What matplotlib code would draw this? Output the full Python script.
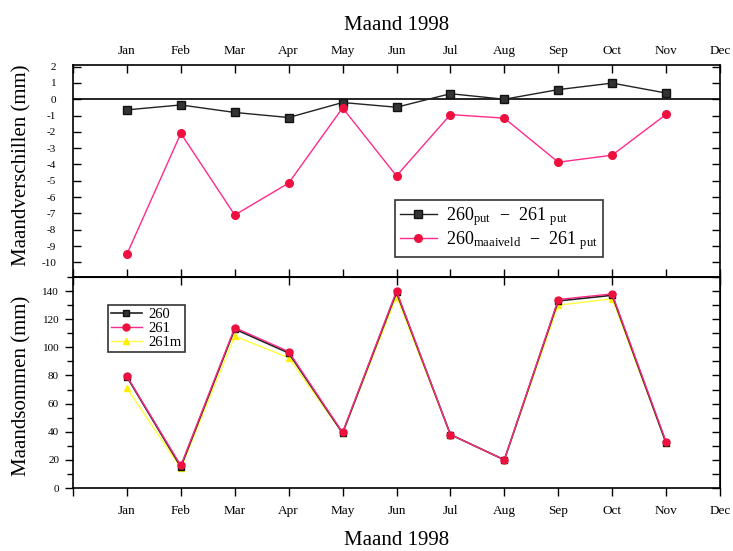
import matplotlib
matplotlib.use("Agg")
import matplotlib.pyplot as plt
from matplotlib.ticker import MultipleLocator, FixedLocator
import numpy as np

plt.rcParams['font.family'] = ['Liberation Serif', 'DejaVu Serif']
plt.rcParams['mathtext.fontset'] = 'custom'
plt.rcParams['mathtext.rm'] = 'Liberation Serif'

months = ['Jan', 'Feb', 'Mar', 'Apr', 'May', 'Jun', 'Jul', 'Aug', 'Sep', 'Oct', 'Nov', 'Dec']
month_pos = list(range(1, 12))  # Jan..Nov data

diff_put = [-0.65, -0.35, -0.81, -1.12, -0.2, -0.49, 0.34, 0.0, 0.59, 0.99, 0.38]
diff_maaiveld = [-9.5, -2.09, -7.1, -5.14, -0.53, -4.7, -0.94, -1.16, -3.86, -3.43, -0.93]

s260 = [79, 15, 113, 96, 39, 139, 38, 20, 133, 137, 32]
s261 = [79.5, 16, 114, 97, 39.5, 140, 38, 20, 134, 138, 33]
s261m = [71, 14, 108, 92.5, 39, 136, 38, 20, 130, 134.5, 32]

W, H = 733, 551
fig = plt.figure(figsize=(W / 100, H / 100), dpi=100)

def ax_rect(l, t, r, b):
    return [l / W, 1 - b / H, (r - l) / W, (b - t) / H]

ax1 = fig.add_axes(ax_rect(73, 65, 720, 277))
ax2 = fig.add_axes(ax_rect(73, 277, 720, 488))

black = '#222222'
pink_line = '#ff2a8a'
red_mk = '#ee1140'
yel_line = '#ffff40'
yel_mk = '#ffee00'

# Top panel
ax1.axhline(0, color='black', lw=1.2, zorder=1)
ax1.plot(month_pos, diff_put, color=black, lw=1.0, marker='s', ms=5.5,
         mfc='#333333', mec='#111111',
         label=r'$\mathregular{260_{put}\ -\ 261_{\ put}}$', zorder=3)
ax1.plot(month_pos, diff_maaiveld, color=pink_line, lw=1.0, marker='o', ms=5.5,
         mfc=red_mk, mec=red_mk,
         label=r'$\mathregular{260_{maaiveld}\ -\ 261_{\ put}}$', zorder=3)
ax1.set_xlim(0, 12)
ax1.set_ylim(-10.9, 2.1)
ax1.yaxis.set_major_locator(FixedLocator(range(-10, 3)))
ax1.set_yticklabels([str(v) for v in range(-10, 3)], fontsize=8)
ax1.xaxis.set_major_locator(FixedLocator(range(0, 13)))
ax1.set_xticklabels([''] + months, fontsize=9.5)
ax1.xaxis.tick_top()
ax1.tick_params(axis='x', which='both', direction='in', top=True, bottom=True,
                length=6, width=1, pad=6, labeltop=True, labelbottom=False)
ax1.tick_params(axis='y', which='both', direction='in', left=True, right=True,
                length=6, width=1, pad=12)
for s in ax1.spines.values():
    s.set_linewidth(1.2)
ax1.set_title('Maand 1998', fontsize=15, pad=25)
leg1 = ax1.legend(loc='upper left', bbox_to_anchor=((395 - 73) / 647, 1 - (200 - 65) / 212),
                  borderaxespad=0,
                  frameon=True, fancybox=False, edgecolor='black', fontsize=13,
                  handlelength=2.0, borderpad=0.3, labelspacing=0.02,
                  handletextpad=0.5)
leg1.get_frame().set_linewidth(1.2)

# Bottom panel
ax2.plot(month_pos, s260, color=black, lw=1.2, marker='s', ms=5,
         mfc='#333333', mec='#111111', label='260', zorder=3)
ax2.plot(month_pos, s261, color=pink_line, lw=1.0, marker='o', ms=5,
         mfc=red_mk, mec=red_mk, label='261', zorder=4)
ax2.plot(month_pos, s261m, color=yel_line, lw=1.0, marker='^', ms=5,
         mfc=yel_mk, mec=yel_mk, label='261m', zorder=2)
ax2.set_xlim(0, 12)
ax2.set_ylim(0, 150)
ax2.yaxis.set_minor_locator(MultipleLocator(10))
ax2.set_yticks(range(0, 141, 20))
ax2.set_yticklabels([str(v) for v in range(0, 141, 20)], fontsize=8)
ax2.xaxis.set_major_locator(FixedLocator(range(0, 13)))
ax2.set_xticklabels([''] + months, fontsize=9.5)
ax2.tick_params(axis='x', which='both', direction='out', bottom=True, top=False,
                length=6, width=1, pad=6)
ax2.secondary_xaxis('top').tick_params(direction='in', length=6, width=1,
                                        labeltop=False)
ax2.tick_params(axis='y', which='major', direction='out', left=True, right=False,
                length=6, width=1, pad=4)
ax2.tick_params(axis='y', which='minor', direction='out', left=True, right=False,
                length=4, width=1)
sec = ax2.secondary_yaxis('right')
sec.set_yticks(range(0, 151, 10))
sec.tick_params(direction='in', length=6, width=1, labelright=False)
for s in ax2.spines.values():
    s.set_linewidth(1.2)
ax2.set_xlabel('Maand 1998', fontsize=15, labelpad=10)
leg2 = ax2.legend(loc='upper left', bbox_to_anchor=((108 - 73) / 647, 1 - (305 - 277) / 211),
                  borderaxespad=0,
                  frameon=True, fancybox=False, edgecolor='black', fontsize=10.5,
                  handlelength=2.1, borderpad=0.2, labelspacing=0.05,
                  handletextpad=0.5)
leg2.get_frame().set_linewidth(1.2)

fig.text(22 / W, 1 - 165 / H, 'Maandverschillen (mm)', rotation=90,
         ha='center', va='center', fontsize=15)
fig.text(22 / W, 1 - 386 / H, 'Maandsommen (mm)', rotation=90,
         ha='center', va='center', fontsize=15)

fig.savefig('out.png', dpi=100)
